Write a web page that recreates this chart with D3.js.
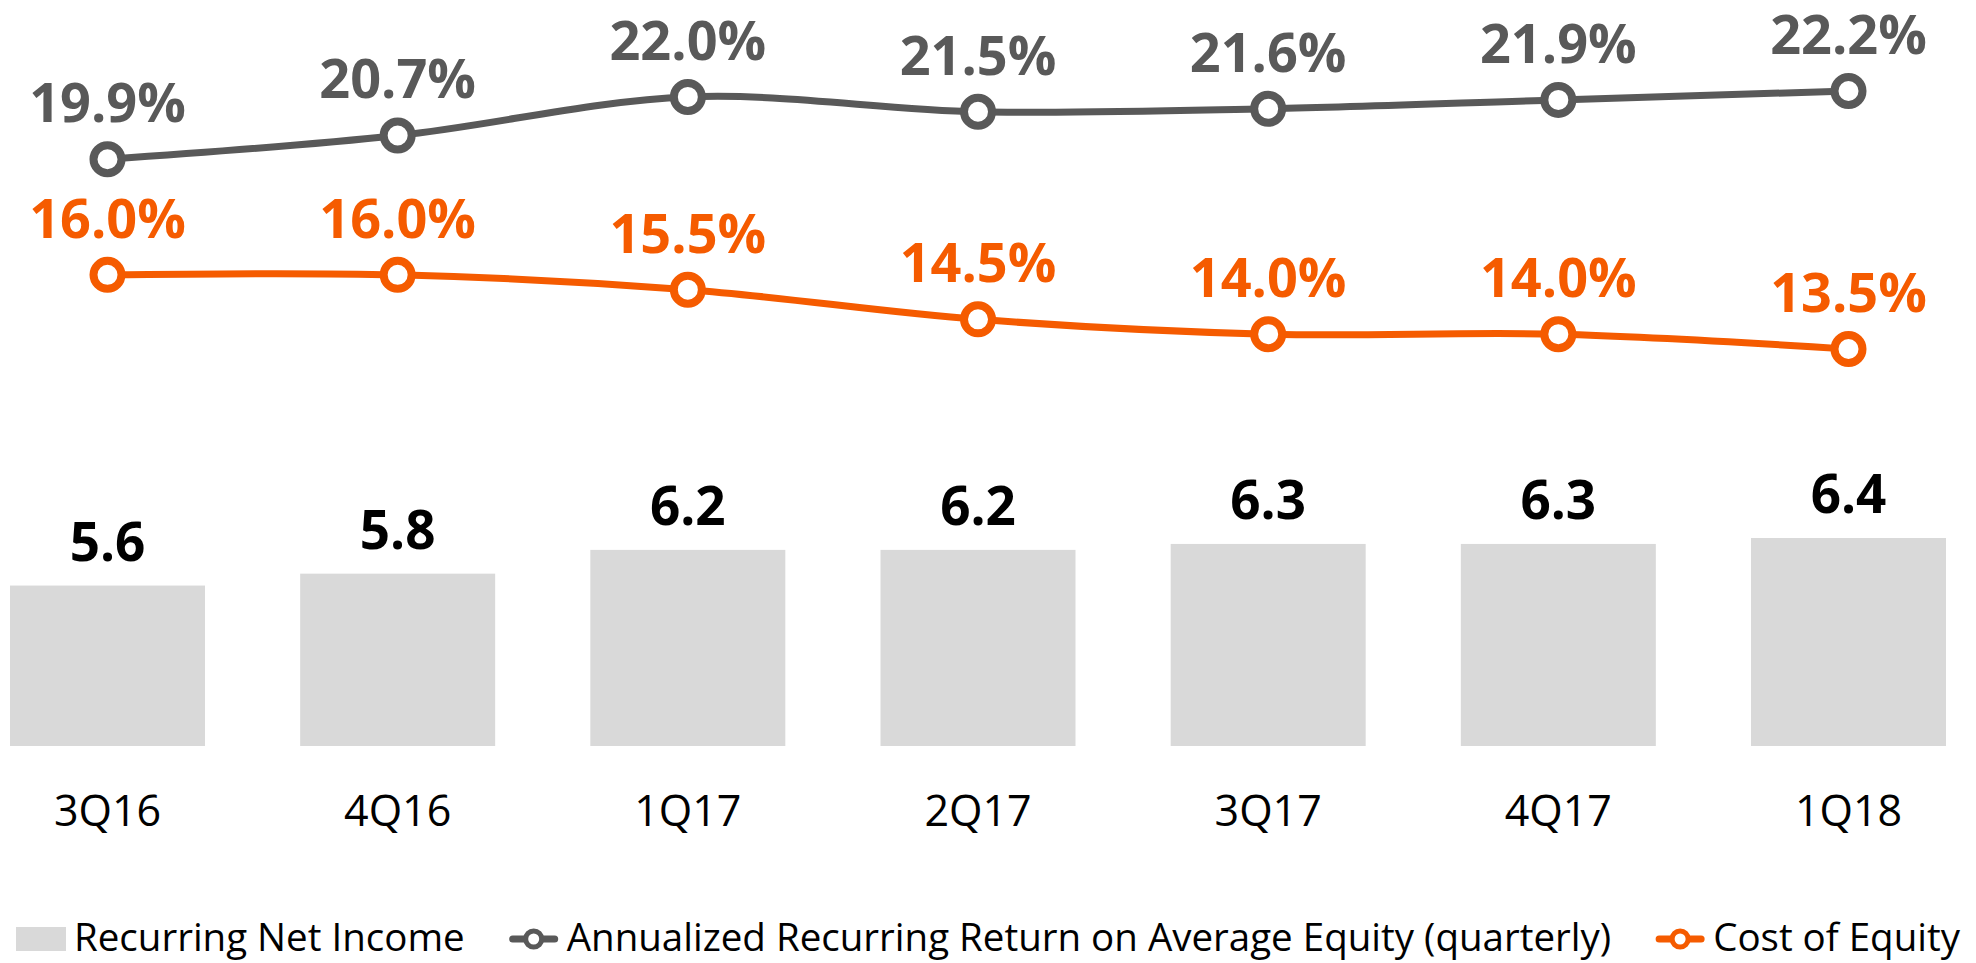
<!DOCTYPE html>
<html lang="en">
<head>
  <meta charset="UTF-8">
  <title>Recurring Net Income and ROAE</title>
  <style>
    body { margin: 0; background: #fff; }
    svg { display: block; font-family: "Open Sans", sans-serif; }
  </style>
</head>
<body>
  <svg id="chart" width="1976" height="963"></svg>

  <script src="https://d3js.org/d3.v7.min.js"></script>
  <script>
    // data
    const categories = ["3Q16", "4Q16", "1Q17", "2Q17", "3Q17", "4Q17", "1Q18"];
    const netIncome = [5.6, 5.8, 6.2, 6.2, 6.3, 6.3, 6.4];
    const roae = [19.9, 20.7, 22.0, 21.5, 21.6, 21.9, 22.2];
    const costOfEquity = [16.0, 16.0, 15.5, 14.5, 14.0, 14.0, 13.5];
    const legendNames = [
      "Recurring Net Income",
      "Annualized Recurring Return on Average Equity (quarterly)",
      "Cost of Equity"
    ];

    const grey = "#595959";
    const orange = "#F55B00";
    const barColor = "#D9D9D9";

    const svg = d3.select("#chart");

    const x = d3.scaleBand()
      .domain(categories)
      .range([10, 1946])
      .paddingInner(0.328)
      .paddingOuter(0);

    const yBar = d3.scaleLinear()
      .domain([2.9, 6.4])
      .range([746, 538]);

    const yPct = d3.scaleLinear()
      .domain([13.5, 22.2])
      .range([349, 91]);

    const cx = d => x(d) + x.bandwidth() / 2;

    // bars
    svg.append("g")
      .selectAll("rect")
      .data(categories)
      .enter()
      .append("rect")
      .attr("x", d => x(d))
      .attr("y", (d, i) => yBar(netIncome[i]))
      .attr("width", x.bandwidth())
      .attr("height", (d, i) => yBar.range()[0] - yBar(netIncome[i]))
      .attr("fill", barColor);

    svg.append("g")
      .selectAll("text")
      .data(categories)
      .enter()
      .append("text")
      .attr("x", cx)
      .attr("y", (d, i) => yBar(netIncome[i]) - 25)
      .attr("text-anchor", "middle")
      .style("font-size", "53px")
      .style("font-weight", "bold")
      .attr("fill", "#000")
      .text((d, i) => netIncome[i].toFixed(1));

    // category axis (labels only)
    const xAxis = d3.axisBottom(x).tickSize(0).tickPadding(0);
    const axisG = svg.append("g")
      .attr("transform", "translate(0, 826)")
      .call(xAxis);
    axisG.select(".domain").remove();
    axisG.selectAll("text")
      .attr("dy", 0)
      .attr("fill", "#000")
      .style("font-size", "43px")
      .style("font-family", "'Open Sans', sans-serif");

    // lines
    const series = [
      { values: roae, color: grey },
      { values: costOfEquity, color: orange }
    ];

    const line = d3.line()
      .x((d, i) => cx(categories[i]))
      .y(d => yPct(d))
      .curve(d3.curveCatmullRom.alpha(0.5));

    series.forEach(s => {
      svg.append("path")
        .datum(s.values)
        .attr("d", line)
        .attr("fill", "none")
        .attr("stroke", s.color)
        .attr("stroke-width", 7);

      svg.append("g")
        .selectAll("circle")
        .data(s.values)
        .enter()
        .append("circle")
        .attr("cx", (d, i) => cx(categories[i]))
        .attr("cy", d => yPct(d))
        .attr("r", 14)
        .attr("fill", "#fff")
        .attr("stroke", s.color)
        .attr("stroke-width", 8);

      svg.append("g")
        .selectAll("text")
        .data(s.values)
        .enter()
        .append("text")
        .attr("x", (d, i) => cx(categories[i]))
        .attr("y", d => yPct(d) - 37)
        .attr("text-anchor", "middle")
        .style("font-size", "54px")
        .style("font-weight", "bold")
        .attr("fill", s.color)
        .text(d => d.toFixed(1) + "%");
    });

    // legend, centred along the bottom
    const legend = svg.append("g");
    const symW = 50;
    const gap = 44;
    let lx = 0;
    legendNames.forEach((name, i) => {
      const item = legend.append("g").attr("transform", `translate(${lx},0)`);
      if (i === 0) {
        item.append("rect")
          .attr("x", 0).attr("y", 927)
          .attr("width", symW).attr("height", 24)
          .attr("fill", barColor);
      } else {
        const c = i === 1 ? grey : orange;
        item.append("line")
          .attr("x1", 4).attr("x2", symW - 4)
          .attr("y1", 939).attr("y2", 939)
          .attr("stroke", c).attr("stroke-width", 7)
          .attr("stroke-linecap", "round");
        item.append("circle")
          .attr("cx", symW / 2).attr("cy", 939).attr("r", 8)
          .attr("fill", "#fff").attr("stroke", c).attr("stroke-width", 5);
      }
      const t = item.append("text")
        .attr("x", symW + 8)
        .attr("y", 951)
        .style("font-size", "38.5px")
        .attr("fill", "#000")
        .text(name);
      lx += symW + 8 + t.node().getComputedTextLength() + gap;
    });
    const lw = lx - gap;
    legend.attr("transform", `translate(${(1976 - lw) / 2},0)`);
  </script>
</body>
</html>
